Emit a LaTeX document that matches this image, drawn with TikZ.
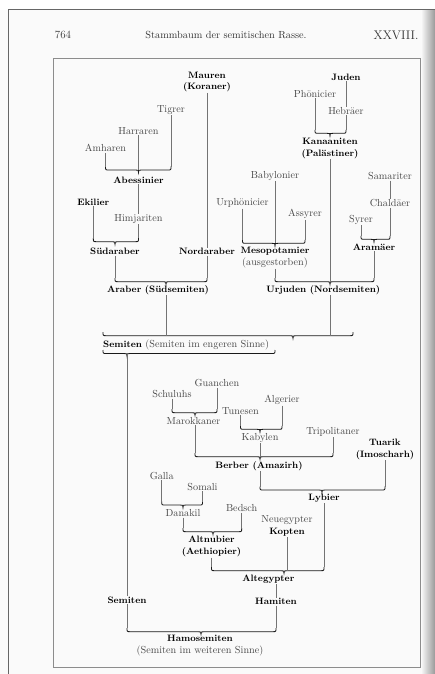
\documentclass[tikz,border=0pt]{standalone}
\usepackage{fontspec}
\usetikzlibrary{calc}
\newcommand{\Brc}[5]{% x-left, x-right, x-tip, y, name
  \coordinate (#5L) at (#1,#4-3.5);
  \coordinate (#5R) at (#2,#4-3.5);
  \coordinate (#5T) at (#3,#4);
  \draw[brl] (#5L) .. controls (#1,#4) .. (#1+3.5,#4) -- (#3-3,#4)
    .. controls (#5T) .. (#3,#4+2.5) .. controls (#5T) .. (#3+3,#4)
    -- (#2-3.5,#4) .. controls (#2,#4) .. (#5R);}
\begin{document}
\begin{tikzpicture}[x=1pt,y=-1pt,
  nt/.style={inner sep=0.6pt, text=black!72, font=\fontsize{10.2}{11.6}\selectfont, align=center},
  bt/.style={inner sep=0.6pt, text=black, font=\fontsize{9.3}{11.6}\selectfont\bfseries, align=center},
  ln/.style={draw=black!55, line width=0.45pt},
  brl/.style={draw=black!90, line width=0.85pt},
]
\useasboundingbox (0,0) rectangle (435,674);
\fill[black!2] (0,0) rectangle (435,674);
\fill[white] (0,0) rectangle (435,10);
\shade[left color=black!2, right color=black!40] (421,10) rectangle (435,674);
\draw[black!60, line width=1pt] (8,674) -- (8,10) -- (435,10);
\draw[black!45, line width=0.6pt] (53,58) rectangle (420,667);

% header
\node[text=black!80, font=\fontsize{11}{13}\selectfont] (pg) at (63,35) {764};
\node[text=black!80, font=\fontsize{10.3}{12}\selectfont] (ttl) at (226,35) {Stammbaum der semitischen Rasse.};
\node[text=black!80, font=\fontsize{12.5}{14}\selectfont] (chap) at (396,35) {XXVIII.};

% ---------- Arabs ----------
\node[bt] (maur) at (207,82) {Mauren\\(Koraner)};
\node[nt] (tig) at (171,110) {Tigrer};
\node[nt] (harr) at (138.5,131) {Harraren};
\node[nt] (amh) at (105.5,148.3) {Amharen};
\Brc{105.5}{171}{138.5}{170}{ab}
\node[bt] (abes) at (138.5,180) {Abessinier};
\node[bt] (ekil) at (93.3,202.3) {Ekilier};
\node[nt] (himj) at (138.5,219) {Himjariten};
\Brc{93.3}{138.5}{115}{241.7}{sd}
\node[bt] (suda) at (115,251.7) {Südaraber};
\node[bt] (nord) at (207,251.7) {Nordaraber};
\Brc{115}{207}{166}{281.7}{ar}
\node[bt] (arab) at (158,290) {Araber (Südsemiten)};

\draw[ln] (tig) -- (abR);
\draw[ln] (harr) -- (abT);
\draw[ln] (amh) -- (abL);
\draw[ln] (abes) -- (himj);
\draw[ln] (himj) -- (sdR);
\draw[ln] (ekil) -- (sdL);
\draw[ln] (suda) -- (arL);
\draw[ln] (maur) -- (nord);
\draw[ln] (nord) -- (arR);

% ---------- Northern Semites ----------
\node[bt] (jud) at (346,77.3) {Juden};
\node[nt] (phon) at (315,94) {Phönicier};
\node[nt] (hebr) at (346,111) {Hebräer};
\Brc{315}{346}{330}{133.3}{kn}
\node[bt] (kana) at (330,148.3) {Kanaaniten\\(Palästiner)};
\node[nt] (baby) at (275,176) {Babylonier};
\node[nt] (sama) at (390,176) {Samariter};
\node[nt] (chal) at (390,203.3) {Chaldäer};
\node[nt] (urph) at (242.5,203.3) {Urphönicier};
\node[nt] (assy) at (305,214.3) {Assyrer};
\node[nt] (syr) at (361,220) {Syrer};
\Brc{242.5}{305}{275}{243.3}{ms}
\Brc{361}{390}{374}{239.3}{am}
\node[bt] (aram) at (374,247.3) {Aramäer};
\node[nt] (meso) at (275,257.8) {\textbf{\fontsize{9.3}{11}\selectfont\color{black}Mesopotamier}\\(ausgestorben)};
\Brc{275}{374}{330}{281.7}{uj}
\node[bt] (urju) at (323.3,290) {Urjuden (Nordsemiten)};

\draw[ln] (jud) -- (hebr);
\draw[ln] (hebr) -- (knR);
\draw[ln] (phon) -- (knL);
\draw[ln] (kana) -- (ujT);
\draw[ln] (baby) -- (msT);
\draw[ln] (urph) -- (msL);
\draw[ln] (assy) -- (msR);
\draw[ln] (sama) -- (chal);
\draw[ln] (chal) -- (amR);
\draw[ln] (syr) -- (amL);
\draw[ln] (meso) -- (ujL);
\draw[ln] (aram) -- (ujR);

% ---------- Semiten ----------
\Brc{103}{353}{293}{335.7}{sb}
\coordinate (arIn) at (166,335.7);
\coordinate (ujIn) at (330,335.7);
\draw[ln] (arab.south -| arT) -- (arIn);
\draw[ln] (urju.south -| ujT) -- (ujIn);
\node[anchor=west, inner sep=0pt, text=black!72, font=\fontsize{10.2}{12}\selectfont] (sem) at (103,345) {\textbf{\fontsize{9.3}{11}\selectfont\color{black}Semiten} (Semiten im engeren Sinne)};
\Brc{103}{275}{127}{353.5}{su}

% ---------- Hamites ----------
\node[nt] (guan) at (217,383.3) {Guanchen};
\node[nt] (schu) at (172,394.3) {Schuluhs};
\Brc{172}{217}{195}{412.7}{mk}
\node[nt] (maro) at (193.5,421) {Marokkaner};
\node[nt] (alge) at (282,400) {Algerier};
\node[nt] (tune) at (240.5,410.7) {Tunesen};
\Brc{240.5}{282}{260}{429.3}{kb}
\node[nt] (kaby) at (260,437.7) {Kabylen};
\node[nt] (trip) at (333,431.7) {Tripolitaner};
\Brc{195}{333}{260}{456.7}{bb}
\node[bt] (berb) at (259,466) {Berber (Amazirh)};
\node[bt] (tuar) at (385,449.2) {Tuarik\\(Imoscharh)};
\Brc{260}{385}{322}{490}{ly}
\node[bt] (lyb) at (324,498.3) {Lybier};
\node[nt] (gall) at (161.7,475.7) {Galla};
\node[nt] (soma) at (202.5,486.7) {Somali};
\Brc{161.7}{202.5}{183}{505}{dk}
\node[nt] (dana) at (183,513.3) {Danakil};
\node[nt] (beds) at (241.7,508.3) {Bedsch};
\Brc{183}{241.7}{213}{531.7}{an}
\node[bt] (altn) at (211.5,546.7) {Altnubier\\(Aethiopier)};
\node[nt] (kopt) at (287,526) {Neuegypter\\\textbf{\fontsize{9.3}{11}\selectfont\color{black}Kopten}};
\Brc{211.5}{324}{284}{570.7}{ae}
\coordinate (kpIn) at (287,570.7);
\node[bt] (alte) at (268.3,579.3) {Altegypter};
\node[bt] (hami) at (276,601.7) {Hamiten};
\node[bt] (sem2) at (127,600) {Semiten};
\Brc{127}{276}{201}{631.7}{hs}
\node[nt] (hamo) at (200,645.5) {\textbf{\fontsize{9.3}{11}\selectfont\color{black}Hamosemiten}\\(Semiten im weiteren Sinne)};

\draw[ln] (guan) -- (mkR);
\draw[ln] (schu) -- (mkL);
\draw[ln] (maro.south -| mkT) -- (bbL);
\draw[ln] (tune) -- (kbL);
\draw[ln] (alge) -- (kbR);
\draw[ln] (kaby) -- (bbT);
\draw[ln] (trip) -- (bbR);
\draw[ln] (berb.south -| bbT) -- (lyL);
\draw[ln] (tuar) -- (lyR);
\draw[ln] (lyb) -- (aeR);
\draw[ln] (gall) -- (dkL);
\draw[ln] (soma) -- (dkR);
\draw[ln] (dana) -- (anL);
\draw[ln] (beds) -- (anR);
\draw[ln] (altn) -- (aeL);
\draw[ln] (kopt) -- (kpIn);
\draw[ln] (alte.south -| hami) -- (hami);
\draw[ln] (hami) -- (hsR);
\draw[ln] (suT) -- (sem2);
\draw[ln] (sem2) -- (hsL);
\end{tikzpicture}
\end{document}
